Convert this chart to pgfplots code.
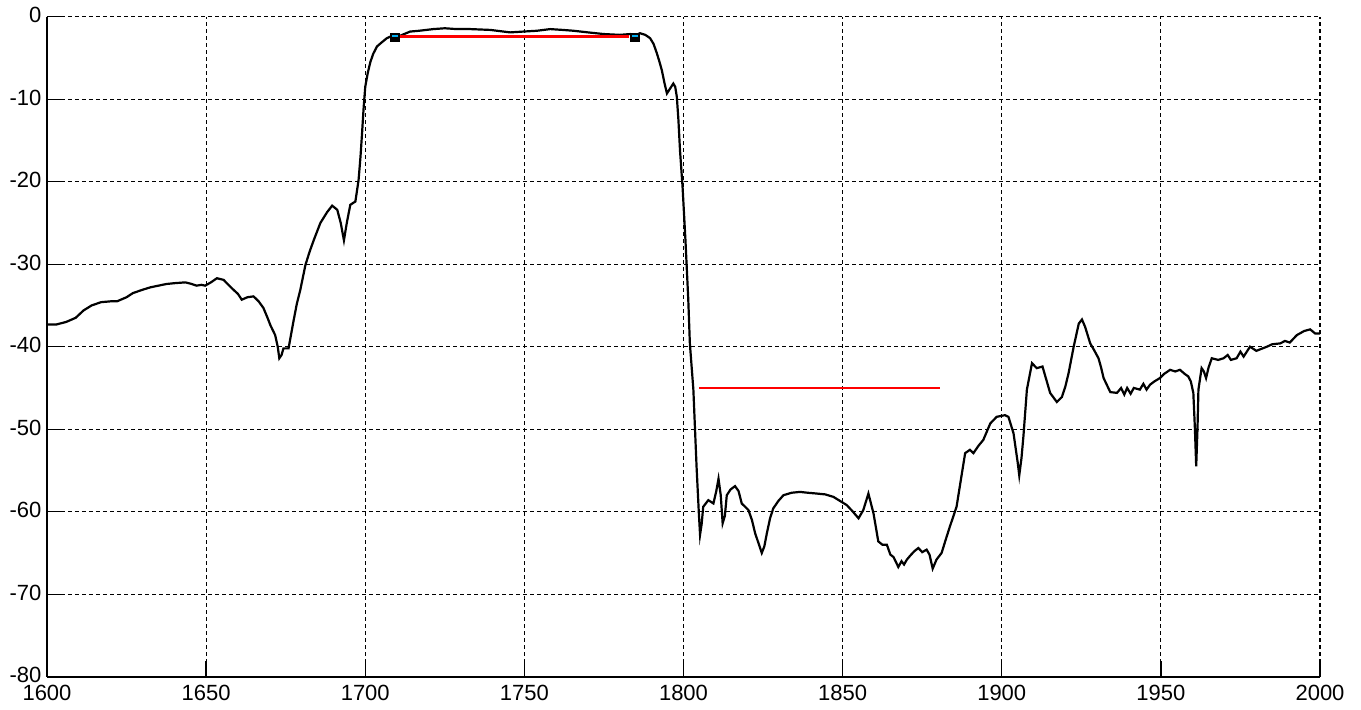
\documentclass[border=0pt]{standalone}
\usepackage{fontspec}
\setmainfont{Liberation Sans}
\usepackage{pgfplots}
\pgfplotsset{compat=1.18}
\begin{document}
\begin{tikzpicture}
\begin{axis}[
  scale only axis, width=636.5pt, height=330pt,
  xmin=1600, xmax=2000, ymin=-80, ymax=0,
  axis x line*=bottom, axis y line*=left,
  axis line style={black, line width=0.9pt, -},
  xtick={1600,1650,...,2000},
  xticklabels={1600,1650,1700,1750,1800,1850,1900,1950,2000},
  ytick={-80,-70,...,0},
  yticklabels={-80,-70,-60,-50,-40,-30,-20,-10,0},
  tick align=inside, major tick length=8pt,
  tick style={black, line width=0.7pt},
  grid=major,
  major grid style={black, line width=0.55pt, dash pattern=on 2pt off 1.5pt},
  ticklabel style={font=\fontsize{11}{13}\selectfont, inner sep=0pt},
  xticklabel style={yshift=-3.8pt},
  yticklabel style={xshift=-2.6pt, yshift=0.8pt},
  clip=false,
]
\addplot[black, line width=1.1pt] coordinates {
(1600,-37.3)(1603,-37.3)(1606,-37.0)(1609,-36.5)(1611.5,-35.6)(1614,-35.0)(1617,-34.6)(1620,-34.5)(1622,-34.5)(1625,-34.0)(1627,-33.5)(1630,-33.1)(1632.5,-32.8)(1635,-32.6)(1637.5,-32.4)(1640,-32.3)(1643.5,-32.2)(1645.5,-32.4)(1647,-32.6)(1648.5,-32.5)(1649.7,-32.6)(1651.5,-32.2)(1653.4,-31.7)(1655.5,-31.9)(1657,-32.5)(1658.6,-33.1)(1660,-33.6)(1661.2,-34.3)(1663,-34.0)(1664.9,-33.9)(1666.5,-34.5)(1668,-35.3)(1669.3,-36.5)(1670.2,-37.4)(1671.7,-38.6)(1672.5,-40.0)(1673.0,-41.4)(1673.7,-41.0)(1674.3,-40.2)(1675.9,-40.2)(1676.7,-38.5)(1677.5,-36.8)(1678.5,-34.8)(1679.6,-33.1)(1681.2,-30.1)(1682.5,-28.5)(1683.8,-27.1)(1685.9,-25.0)(1688,-23.7)(1689.6,-22.9)(1691.2,-23.4)(1692.3,-25)(1693.3,-27.1)(1694.2,-25.0)(1695.3,-22.8)(1696.9,-22.4)(1697.9,-19.8)(1698.5,-17)(1699.0,-14.1)(1699.5,-11)(1700.0,-8.5)(1700.8,-6.8)(1701.6,-5.5)(1702.5,-4.5)(1703.7,-3.6)(1705.2,-3.1)(1706.8,-2.6)(1708.5,-2.3)(1709.4,-2.4)(1711,-2.3)(1714.1,-1.8)(1717,-1.7)(1721.4,-1.5)(1725,-1.4)(1728.7,-1.5)(1733,-1.5)(1739.3,-1.6)(1745.5,-1.9)(1749.7,-1.8)(1754,-1.7)(1758.1,-1.5)(1762,-1.6)(1765.4,-1.7)(1770,-1.9)(1774.9,-2.1)(1780,-2.2)(1783.3,-2.1)(1784.8,-2.3)(1786.3,-2.0)(1788,-2.2)(1789.5,-2.6)(1790.6,-3.3)(1791.6,-4.4)(1792.4,-5.4)(1793.2,-6.5)(1794,-8.0)(1794.8,-9.3)(1795.8,-8.7)(1796.8,-8.1)(1797.4,-8.5)(1797.9,-9.7)(1798.4,-12.5)(1798.9,-16.2)(1799.7,-20.6)(1800.6,-27)(1801.5,-34.3)(1802.0,-39.6)(1803.1,-45.2)(1804.1,-54.5)(1804.8,-60)(1805.2,-62.8)(1805.7,-61.5)(1806.2,-59.4)(1807.8,-58.6)(1809.4,-59.0)(1810.3,-57.5)(1811.0,-56.0)(1811.7,-58)(1812.3,-61.4)(1813.0,-60.5)(1813.6,-58.0)(1814.8,-57.3)(1816.2,-56.9)(1817.3,-57.5)(1818.3,-59.0)(1820.4,-59.8)(1821.5,-61)(1822.5,-62.6)(1824.6,-65.0)(1825.4,-64.2)(1826.2,-62.6)(1827.2,-60.8)(1828.2,-59.6)(1829.8,-58.7)(1831.4,-58.0)(1834,-57.7)(1836.6,-57.6)(1839,-57.7)(1841.9,-57.8)(1844.5,-57.9)(1847.1,-58.2)(1849.2,-58.7)(1851.3,-59.2)(1853,-59.9)(1855.0,-60.8)(1856.5,-59.8)(1858.1,-57.8)(1859.7,-60.2)(1860.5,-62)(1861.2,-63.6)(1862.5,-64.0)(1863.9,-64.0)(1865,-65.2)(1866,-65.5)(1867.5,-66.7)(1868.5,-66.0)(1869.3,-66.4)(1870.2,-65.8)(1871.3,-65.3)(1872.5,-64.8)(1873.8,-64.4)(1875,-64.9)(1876.4,-64.6)(1877.3,-65.2)(1878.3,-66.9)(1879.5,-65.8)(1881.1,-65.0)(1882.3,-63.5)(1883.7,-61.8)(1885.8,-59.4)(1887,-56.5)(1888.5,-52.9)(1890.0,-52.5)(1891.1,-52.9)(1892.7,-52)(1894.2,-51.3)(1896.4,-49.3)(1898.4,-48.5)(1901.0,-48.3)(1902.1,-48.5)(1903.7,-50.5)(1905.0,-54)(1905.5,-55.6)(1906.2,-53.5)(1906.8,-50.9)(1907.9,-45.2)(1909.5,-42.0)(1911.0,-42.6)(1912.8,-42.4)(1914,-44)(1915.2,-45.6)(1917.3,-46.7)(1918.9,-46.1)(1920,-44.8)(1921.0,-43.2)(1922.6,-40.0)(1924.2,-37.2)(1925.2,-36.7)(1926.2,-37.6)(1927.8,-39.6)(1929,-40.4)(1930.4,-41.4)(1931.2,-42.5)(1932.0,-43.8)(1934.1,-45.5)(1936.2,-45.6)(1937.5,-45.0)(1938.5,-45.8)(1939.4,-45.0)(1940.5,-45.7)(1941.5,-45.0)(1943.4,-45.2)(1944.5,-44.5)(1945.5,-45.2)(1946.6,-44.6)(1948,-44.2)(1949.7,-43.8)(1951,-43.3)(1952.9,-42.8)(1954.5,-43.0)(1956.0,-42.8)(1957.5,-43.3)(1958.6,-43.6)(1959.4,-44.2)(1960.2,-45.6)(1960.7,-50)(1961.1,-54.5)(1961.5,-50)(1961.8,-45.2)(1962.8,-42.6)(1963.5,-43.0)(1964.2,-43.8)(1965,-42.5)(1966.0,-41.4)(1968,-41.6)(1969.7,-41.4)(1971,-41.0)(1972,-41.6)(1973.8,-41.4)(1975,-40.6)(1976,-41.2)(1978.0,-40.0)(1980,-40.5)(1983.3,-40.0)(1985,-39.7)(1987.5,-39.6)(1989,-39.3)(1990.5,-39.5)(1992.7,-38.6)(1995,-38.1)(1996.9,-37.9)(1998.5,-38.4)(2000,-38.4)
};
\addplot[red, line width=1.1pt] coordinates {(1711,-2.4)(1783,-2.4)};
\addplot[red, line width=1.1pt] coordinates {(1805,-45)(1880.5,-45)};
\addplot[only marks, mark=square*, mark size=2pt, mark options={fill=black, draw=black, line width=0.8pt}] coordinates {(1709.4,-2.5)(1784.8,-2.5)};
\addplot[only marks, mark=-, mark size=1.6pt, mark options={cyan, line width=1.1pt, yshift=0.6pt}] coordinates {(1709.4,-2.5)(1784.8,-2.5)};
\end{axis}
\path[use as bounding box] (-23.5pt,-16.2pt) rectangle (657pt,338.35pt);
\end{tikzpicture}
\end{document}
